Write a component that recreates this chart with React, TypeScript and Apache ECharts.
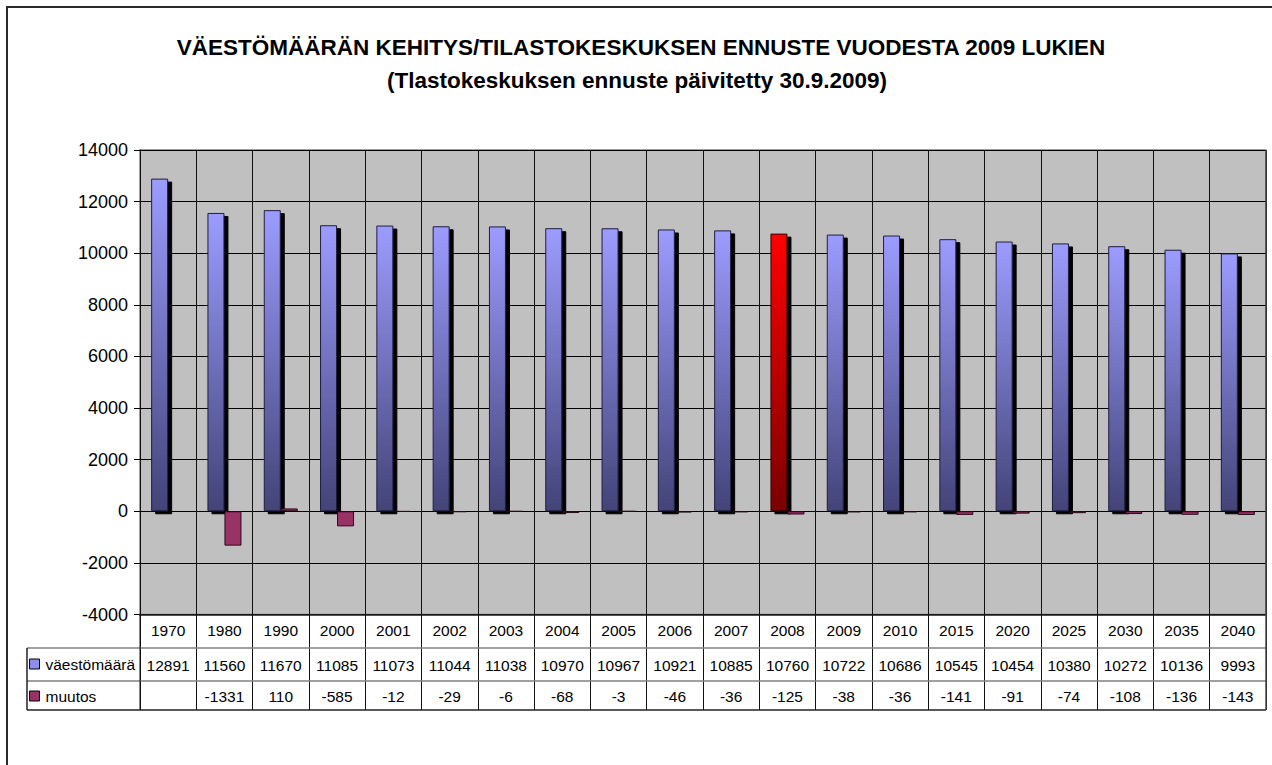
import React, { useEffect, useRef } from 'react';
import * as echarts from 'echarts';

const YEARS = ['1970', '1980', '1990', '2000', '2001', '2002', '2003', '2004', '2005', '2006', '2007', '2008', '2009', '2010', '2015', '2020', '2025', '2030', '2035', '2040'];
const POPULATION = [12891, 11560, 11670, 11085, 11073, 11044, 11038, 10970, 10967, 10921, 10885, 10760, 10722, 10686, 10545, 10454, 10380, 10272, 10136, 9993];
const CHANGE: (number | null)[] = [null, -1331, 110, -585, -12, -29, -6, -68, -3, -46, -36, -125, -38, -36, -141, -91, -74, -108, -136, -143];
const HIGHLIGHT_YEAR = '2008';
const SERIES_NAMES = ['väestömäärä', 'muutos'];
const TITLE_LINES = [
  'VÄESTÖMÄÄRÄN KEHITYS/TILASTOKESKUKSEN ENNUSTE VUODESTA 2009 LUKIEN',
  '(Tlastokeskuksen ennuste päivitetty 30.9.2009)',
];
const Y_MIN = -4000;
const Y_MAX = 14000;
const Y_STEP = 2000;

const W = 1272;
const H = 765;
const GRID_LEFT = 140;
const GRID_RIGHT_X = 1266;
const GRID_TOP = 150;
const GRID_BOTTOM_Y = 614.5;
const ROW1_Y = 648;
const ROW2_Y = 681;
const ROW3_Y = 710;
const TABLE_LEFT = 27;
const FONT = '"Liberation Sans", Arial, sans-serif';
const TABLE_FS = 15.5;

const blueGrad = () =>
  new echarts.graphic.LinearGradient(0, 0, 0, 1, [
    { offset: 0, color: '#9C9CFF' },
    { offset: 1, color: '#434378' },
  ]);
const redGrad = () =>
  new echarts.graphic.LinearGradient(0, 0, 0, 1, [
    { offset: 0, color: '#FF0000' },
    { offset: 1, color: '#7A0000' },
  ]);

export default function App() {
  const ref = useRef<HTMLDivElement>(null);
  useEffect(() => {
    document.body.style.margin = '0';
    document.body.style.overflow = 'hidden';
    const chart = echarts.init(ref.current!, null, { renderer: 'svg' });

    const popData = POPULATION.map((v, i) =>
      YEARS[i] === HIGHLIGHT_YEAR
        ? { value: v, itemStyle: { color: redGrad(), borderColor: '#330000' } }
        : v
    );

    const rowAxis = (data: string[], margin: number) => ({
      type: 'category',
      data,
      position: 'bottom',
      gridIndex: 0,
      axisLine: { show: false, onZero: false },
      axisTick: { show: false },
      splitLine: { show: false },
      axisLabel: {
        interval: 0,
        margin,
        verticalAlign: 'middle',
        color: '#000',
        fontSize: TABLE_FS,
        fontFamily: FONT,
      },
    });

    const hLine = (y: number, color: string, w: number, x1 = TABLE_LEFT) => ({
      type: 'line',
      silent: true,
      shape: { x1, y1: y, x2: GRID_RIGHT_X, y2: y },
      style: { stroke: color, lineWidth: w },
      z: 100,
    });

    const legendBase = {
      left: 29,
      padding: 0,
      itemWidth: 10,
      itemHeight: 10,
      icon: 'rect',
      selectedMode: false,
      textStyle: { color: '#000', fontSize: TABLE_FS, fontFamily: FONT, padding: [0, 0, 0, 1] },
    };

    const option: any = {
      animation: false,
      backgroundColor: '#fff',
      grid: {
        left: GRID_LEFT,
        right: W - GRID_RIGHT_X,
        top: GRID_TOP,
        bottom: H - GRID_BOTTOM_Y,
        show: true,
        backgroundColor: '#C0C0C0',
        borderColor: '#808080',
        borderWidth: 1.5,
      },
      legend: [
        {
          ...legendBase,
          data: [SERIES_NAMES[0]],
          top: 656,
          itemStyle: { color: '#8E8EEE', borderColor: '#000', borderWidth: 1, shadowOffsetX: 0, shadowOffsetY: 0, shadowBlur: 0 },
        },
        {
          ...legendBase,
          data: [SERIES_NAMES[1]],
          top: 688,
          itemStyle: { color: '#993366', borderColor: '#000', borderWidth: 1 },
        },
      ],
      xAxis: [
        {
          type: 'category',
          data: YEARS,
          position: 'bottom',
          axisLine: { show: true, onZero: false, lineStyle: { color: '#222', width: 1.5 } },
          axisTick: {
            show: true,
            interval: 0,
            length: ROW3_Y - GRID_BOTTOM_Y,
            lineStyle: { color: '#111', width: 1 },
          },
          splitLine: { show: true, interval: 0, lineStyle: { color: '#111', width: 1 } },
          axisLabel: {
            interval: 0,
            margin: 16,
            verticalAlign: 'middle',
            color: '#000',
            fontSize: TABLE_FS,
            fontFamily: FONT,
          },
          z: 5,
        },
        rowAxis(POPULATION.map(String), 50.5),
        rowAxis(CHANGE.map((v) => (v === null ? '' : String(v))), 82),
      ],
      yAxis: {
        type: 'value',
        min: Y_MIN,
        max: Y_MAX,
        interval: Y_STEP,
        axisLine: { show: true, lineStyle: { color: '#000', width: 1 } },
        axisTick: { show: true, length: 6, lineStyle: { color: '#000' } },
        splitLine: { show: true, lineStyle: { color: '#000', width: 1 } },
        axisLabel: {
          margin: 12,
          color: '#000',
          fontSize: 18,
          fontFamily: FONT,
          formatter: (v: number) => String(v),
        },
      },
      series: [
        {
          name: SERIES_NAMES[0],
          type: 'bar',
          xAxisIndex: 0,
          data: popData,
          barWidth: 17,
          barGap: '0%',
          itemStyle: {
            color: blueGrad(),
            borderColor: '#1E1E40',
            borderWidth: 1,
            shadowColor: '#000',
            shadowBlur: 0,
            shadowOffsetX: 4,
            shadowOffsetY: 3,
          },
          z: 2,
        },
        {
          name: SERIES_NAMES[1],
          type: 'bar',
          xAxisIndex: 0,
          data: CHANGE,
          barWidth: 17,
          barGap: '0%',
          itemStyle: { color: '#993366', borderColor: '#2A0A1A', borderWidth: 1 },
          z: 3,
        },
      ],
      graphic: [
        {
          type: 'rect',
          silent: true,
          shape: { x: 7, y: 7, width: W + 40, height: H + 40 },
          style: { fill: 'none', stroke: '#2A2A2A', lineWidth: 2 },
        },
        {
          type: 'text',
          silent: true,
          x: 641,
          y: 47,
          style: {
            text: TITLE_LINES[0],
            align: 'center',
            verticalAlign: 'middle',
            fill: '#000',
            font: `bold 22.5px ${FONT}`,
          },
        },
        {
          type: 'text',
          silent: true,
          x: 637,
          y: 80,
          style: {
            text: TITLE_LINES[1],
            align: 'center',
            verticalAlign: 'middle',
            fill: '#000',
            font: `bold 22.5px ${FONT}`,
          },
        },
        hLine(ROW1_Y, '#808080', 1.5),
        hLine(ROW2_Y, '#808080', 1.5),
        hLine(ROW3_Y, '#222', 1.5),
        {
          type: 'line',
          silent: true,
          shape: { x1: TABLE_LEFT, y1: ROW1_Y, x2: TABLE_LEFT, y2: ROW3_Y },
          style: { stroke: '#222', lineWidth: 1.5 },
          z: 100,
        },
        {
          type: 'line',
          silent: true,
          shape: { x1: GRID_LEFT, y1: GRID_BOTTOM_Y, x2: GRID_LEFT, y2: ROW3_Y },
          style: { stroke: '#111', lineWidth: 1 },
          z: 100,
        },
        {
          type: 'line',
          silent: true,
          shape: { x1: GRID_RIGHT_X, y1: GRID_TOP, x2: GRID_RIGHT_X, y2: ROW3_Y },
          style: { stroke: '#444', lineWidth: 1.5 },
          z: 100,
        },
      ],
    };

    chart.setOption(option);
    return () => chart.dispose();
  }, []);

  return <div ref={ref} style={{ width: W, height: H }} />;
}
